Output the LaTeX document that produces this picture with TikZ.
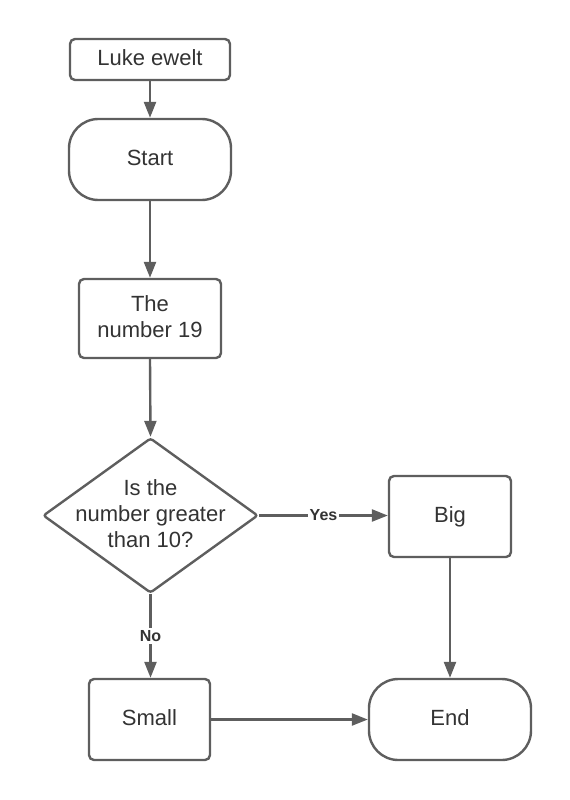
\documentclass[tikz,border=0pt]{standalone}
\usepackage{fontspec}
\setmainfont{Liberation Sans}
\usetikzlibrary{shapes.geometric,arrows.meta}
\definecolor{linegray}{HTML}{5E5E5E}
\definecolor{textgray}{HTML}{333333}
\tikzset{
  box/.style={draw=linegray, line width=1.8pt, rounded corners=3.75pt, fill=white,
    text=textgray, align=center, inner sep=0pt, text depth=0.28em,
    font=\fontsize{16.5pt}{19.5pt}\selectfont},
  term/.style={box, rounded corners=22pt},
  dia/.style={draw=linegray, line width=1.8pt, diamond, fill=white, inner sep=0pt,
    rounded corners=2pt},
  txt/.style={text=textgray, align=center, inner sep=0pt, text depth=0.28em,
    font=\fontsize{16.5pt}{19.5pt}\selectfont},
  conn/.style={draw=linegray, line width=1.8pt, -{Triangle[length=12pt,width=9pt]}},
  lbl/.style={fill=white, text=textgray, inner sep=1.5pt,
    font=\fontsize{12pt}{14pt}\selectfont\bfseries}
}
\begin{document}
\begin{tikzpicture}[x=0.75pt, y=-0.75pt]
\useasboundingbox (0,0) rectangle (570,800);
\node[box, minimum width=120pt, minimum height=30.75pt] (luke) at (150,59.5) {Luke ewelt};
\node[term, minimum width=121.5pt, minimum height=60.75pt] (start) at (150,159.5) {Start};
\node[box, minimum width=106.5pt, minimum height=59.25pt] (num) at (150,318.5) {The\\number 19};
\node[dia, minimum width=161.25pt, minimum height=116.25pt] (dec) at (150.5,515.5) {};
\node[txt] (dect) at (150.5,515.5) {Is the\\number greater\\than 10?};
\node[box, minimum width=91.5pt, minimum height=60.75pt] (big) at (450,516.5) {Big};
\node[box, minimum width=90.75pt, minimum height=60.75pt] (small) at (149.5,719.5) {Small};
\node[term, minimum width=121.5pt, minimum height=60.75pt] (endn) at (450,719.5) {End};

\draw[conn] (luke.south) -- (start.north);
\draw[conn] (start.south) -- (num.north);
\draw[conn] (num.south) -- (dec.north);
\draw[conn] (dec.east) -- node[lbl] {Yes} (big.west |- dec.east);
\draw[conn] (dec.south) -- node[lbl] {No} (small.north -| dec.south);
\draw[conn] (big.south) -- (endn.north);
\draw[conn] (small.east) -- (endn.west |- small.east);
\end{tikzpicture}
\end{document}
